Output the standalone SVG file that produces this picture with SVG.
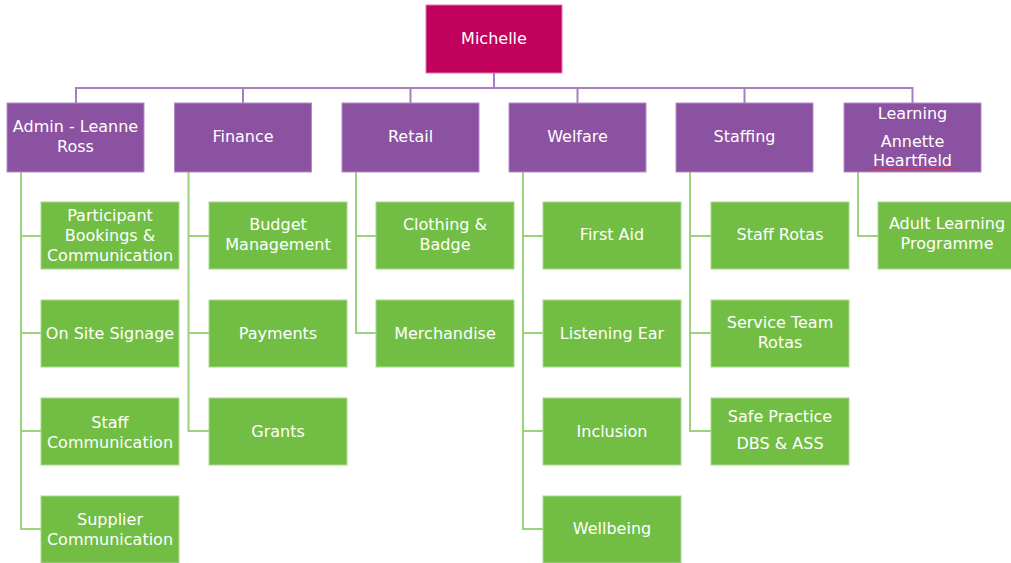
<svg xmlns="http://www.w3.org/2000/svg" width="1011" height="563" viewBox="0 0 1011 563">
<style>
text{font-family:"DejaVu Sans","Liberation Sans",sans-serif;font-size:16px;fill:#ffffff;text-anchor:middle}
.root{fill:#c2005e;stroke:#e07aa8;stroke-width:1}
.l1{fill:#8b52a1;stroke:#b58cc5;stroke-width:1}
.l2{fill:#72be44;stroke:#a8d98c;stroke-width:1}
.bus{fill:none;stroke:#a77fc0;stroke-width:2}
.gc{fill:none;stroke:#9bd27c;stroke-width:2}
</style>
<rect width="1011" height="563" fill="#ffffff"/>
<g id="connectors">
<path class="bus" d="M494,73V88M76,103V88H912.5V103M243,88V103M410.5,88V103M577.5,88V103M744.5,88V103"/>
<path class="gc" d="M21,172V529H41M21,236H41M21,333H41M21,431H41"/>
<path class="gc" d="M188.5,172V431H209M188.5,236H209M188.5,333H209"/>
<path class="gc" d="M356,172V333H376M356,236H376"/>
<path class="gc" d="M523,172V529H543M523,236H543M523,333H543M523,431H543"/>
<path class="gc" d="M690,172V431H711M690,236H711M690,333H711"/>
<path class="gc" d="M858,172V236H878"/>
</g>
<g id="n-michelle"><rect class="root" x="426" y="5" width="136" height="68"/><text x="494" y="44">Michelle</text></g>
<g id="n-admin"><rect class="l1" x="7" y="103" width="137" height="69"/><text x="75.5" y="132">Admin - Leanne</text><text x="75.5" y="152">Ross</text></g>
<g id="n-finance"><rect class="l1" x="174.5" y="103" width="137" height="69"/><text x="243" y="142">Finance</text></g>
<g id="n-retail"><rect class="l1" x="342" y="103" width="137" height="69"/><text x="410.5" y="142">Retail</text></g>
<g id="n-welfare"><rect class="l1" x="509" y="103" width="137" height="69"/><text x="577.5" y="142">Welfare</text></g>
<g id="n-staffing"><rect class="l1" x="676" y="103" width="137" height="69"/><text x="744.5" y="142">Staffing</text></g>
<g id="n-learning"><rect class="l1" x="844" y="103" width="137" height="69"/><text x="912.5" y="119">Learning</text><text x="912.5" y="147">Annette</text><text x="912.5" y="166">Heartfield</text>
<path d="M870,169.5l2,-1.5l2,1.5l2,-1.5l2,1.5l2,-1.5l2,1.5l2,-1.5l2,1.5l2,-1.5l2,1.5l2,-1.5l2,1.5l2,-1.5l2,1.5l2,-1.5l2,1.5l2,-1.5l2,1.5l2,-1.5l2,1.5l2,-1.5l2,1.5l2,-1.5l2,1.5l2,-1.5l2,1.5l2,-1.5l2,1.5l2,-1.5l2,1.5l2,-1.5l2,1.5l2,-1.5l2,1.5l2,-1.5l2,1.5l2,-1.5l2,1.5l2,-1.5l2,1.5l2,-1.5l2,1.5" fill="none" stroke="#e0303a" stroke-width="1"/></g>
<g id="n-participant"><rect class="l2" x="41" y="202" width="138" height="67"/><text x="110" y="221">Participant</text><text x="110" y="241">Bookings &amp;</text><text x="110" y="261">Communication</text></g>
<g id="n-signage"><rect class="l2" x="41" y="300" width="138" height="67"/><text x="110" y="339">On Site Signage</text></g>
<g id="n-staffcomm"><rect class="l2" x="41" y="398" width="138" height="67"/><text x="110" y="428">Staff</text><text x="110" y="448">Communication</text></g>
<g id="n-supplier"><rect class="l2" x="41" y="496" width="138" height="67"/><text x="110" y="525">Supplier</text><text x="110" y="545">Communication</text></g>
<g id="n-budget"><rect class="l2" x="209" y="202" width="138" height="67"/><text x="278" y="230">Budget</text><text x="278" y="250">Management</text></g>
<g id="n-payments"><rect class="l2" x="209" y="300" width="138" height="67"/><text x="278" y="339">Payments</text></g>
<g id="n-grants"><rect class="l2" x="209" y="398" width="138" height="67"/><text x="278" y="437">Grants</text></g>
<g id="n-clothing"><rect class="l2" x="376" y="202" width="138" height="67"/><text x="445" y="230">Clothing &amp;</text><text x="445" y="250">Badge</text></g>
<g id="n-merch"><rect class="l2" x="376" y="300" width="138" height="67"/><text x="445" y="339">Merchandise</text></g>
<g id="n-firstaid"><rect class="l2" x="543" y="202" width="138" height="67"/><text x="612" y="240">First Aid</text></g>
<g id="n-listening"><rect class="l2" x="543" y="300" width="138" height="67"/><text x="612" y="339">Listening Ear</text></g>
<g id="n-inclusion"><rect class="l2" x="543" y="398" width="138" height="67"/><text x="612" y="437">Inclusion</text></g>
<g id="n-wellbeing"><rect class="l2" x="543" y="496" width="138" height="67"/><text x="612" y="534">Wellbeing</text></g>
<g id="n-staffrotas"><rect class="l2" x="711" y="202" width="138" height="67"/><text x="780" y="240">Staff Rotas</text></g>
<g id="n-service"><rect class="l2" x="711" y="300" width="138" height="67"/><text x="780" y="328">Service Team</text><text x="780" y="348">Rotas</text></g>
<g id="n-safe"><rect class="l2" x="711" y="398" width="138" height="67"/><text x="780" y="422">Safe Practice</text><text x="780" y="449">DBS &amp; ASS</text></g>
<g id="n-adult"><rect class="l2" x="878" y="202" width="138" height="67"/><text x="947" y="229">Adult Learning</text><text x="947" y="249">Programme</text></g>
</svg>
